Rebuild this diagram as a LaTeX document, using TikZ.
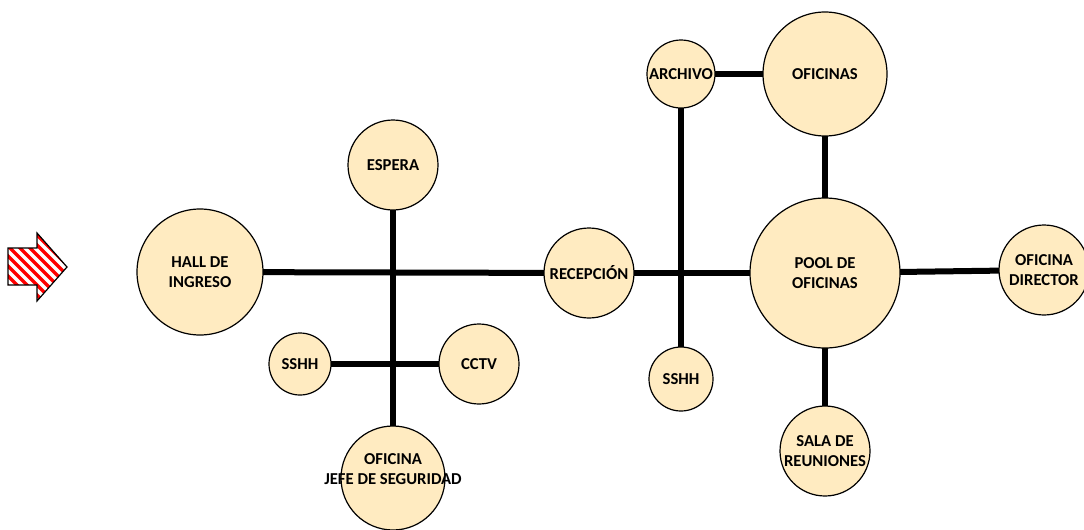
\documentclass[tikz,border=0pt]{standalone}
\usepackage{fontspec}
\setmainfont{Carlito}
\usetikzlibrary{backgrounds}
\definecolor{roomfill}{HTML}{FFEBC1}
\newcommand{\entrypath}{(8,248) -- (37,248) -- (37,233) -- (67,267) -- (37,301) -- (37,285) -- (8,285) -- cycle}
\tikzset{
  roomfont/.style={align=center,font=\bfseries\fontsize{12.5}{15}\selectfont},
  room/.style={circle,draw=black,line width=0.9pt,fill=roomfill,inner sep=0pt,
    minimum size=#1*0.75pt,roomfont},
  link/.style={line width=4.5pt,shorten <=-3pt,shorten >=-3pt},
}
\begin{document}
\begin{tikzpicture}[x=0.75pt,y=-0.75pt]
\useasboundingbox (0,0) rectangle (1084,529);
% ---------- entry arrow ----------
\begin{scope}
  \clip \entrypath;
  \foreach \s in {-80,-70,...,70}
    \draw[red,line width=2.6pt] (\s,228) -- (\s+80,308);
\end{scope}
\draw[line width=0.9pt] \entrypath;
% ---------- security zone ----------
\node[room=126] (hall) at (200,272) {HALL DE\\INGRESO};
\node[room=90] (espera) at (393,165) {ESPERA};
\node[room=62] (sshhA) at (300,364) {SSHH};
\node[room=80] (cctv) at (479,364) {CCTV};
\node[room=104,label={[roomfont,yshift=7pt]center:OFICINA\\JEFE DE SEGURIDAD}] (jefe) at (393,478) {};
% ---------- office zone ----------
\node[room=90] (recep) at (589,273) {RECEPCIÓN};
\node[room=68] (archivo) at (681,74) {ARCHIVO};
\node[room=64] (sshhB) at (681,379) {SSHH};
\node[room=124] (oficinas) at (825,74) {OFICINAS};
\node[room=150] (pool) at (825,273) {POOL DE\\OFICINAS};
\node[room=90] (sala) at (825,451) {SALA DE\\REUNIONES};
\node[room=90] (director) at (1044,270) {OFICINA\\DIRECTOR};
% ---------- links ----------
\begin{pgfonlayer}{background}
  \draw[link] (hall) -- (recep);
  \draw[link] (espera) -- (jefe);
  \draw[link] (sshhA) -- (cctv);
  \draw[link] (recep) -- (pool);
  \draw[link] (archivo) -- (sshhB);
  \draw[link] (archivo) -- (oficinas);
  \draw[link] (oficinas) -- (pool);
  \draw[link] (pool) -- (sala);
  \draw[link] (pool) -- (director);
\end{pgfonlayer}
\end{tikzpicture}
\end{document}
